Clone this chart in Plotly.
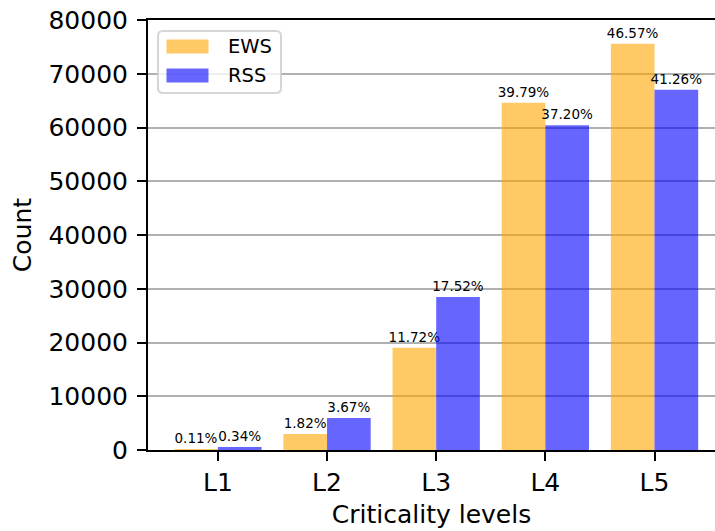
import plotly.graph_objects as go

# ---- data ----
levels = ["L1", "L2", "L3", "L4", "L5"]
ews_counts = [179, 2955, 19030, 64610, 75590]
rss_counts = [552, 5960, 28460, 60430, 67030]
ews_pct = ["0.11%", "1.82%", "11.72%", "39.79%", "46.57%"]
rss_pct = ["0.34%", "3.67%", "17.52%", "37.20%", "41.26%"]
series_names = ["EWS", "RSS"]
y_ticks = [0, 10000, 20000, 30000, 40000, 50000, 60000, 70000, 80000]

W, H = 715, 531
ML, MR, MT, MB = 148, 0, 20, 81
PW, PH = W - ML - MR, H - MT - MB

ORANGE = "rgba(255,165,0,0.6)"
BLUE = "rgba(0,0,255,0.6)"
FONT = "DejaVu Sans"

fig = go.Figure()
fig.add_trace(go.Bar(x=levels, y=ews_counts, name=series_names[0], marker=dict(color=ORANGE, line=dict(width=0)),
                     text=ews_pct, textposition="outside", cliponaxis=False, constraintext="none",
                     outsidetextfont=dict(size=13.5, color="black", family=FONT)))
fig.add_trace(go.Bar(x=levels, y=rss_counts, name=series_names[1], marker=dict(color=BLUE, line=dict(width=0)),
                     text=rss_pct, textposition="outside", cliponaxis=False, constraintext="none",
                     outsidetextfont=dict(size=13.5, color="black", family=FONT)))

def px2paper(x, y):
    return (x - ML) / PW, (H - MB - y) / PH

def rrect(x0, y0, x1, y1, r):
    def P(x, y):
        a, b = px2paper(x, y)
        return f"{a:.5f},{b:.5f}"
    return (f"M {P(x0+r,y0)} L {P(x1-r,y0)} Q {P(x1,y0)} {P(x1,y0+r)} "
            f"L {P(x1,y1-r)} Q {P(x1,y1)} {P(x1-r,y1)} L {P(x0+r,y1)} "
            f"Q {P(x0,y1)} {P(x0,y1-r)} L {P(x0,y0+r)} Q {P(x0,y0)} {P(x0+r,y0)} Z")

shapes = []
shapes.append(dict(type="path", xref="paper", yref="paper", path=rrect(158, 31, 281, 93, 5),
                   fillcolor="rgba(255,255,255,0.8)", line=dict(color="rgba(204,204,204,0.8)", width=2), layer="above"))
sw = [(39.5, 53.5, ORANGE), (68.5, 82.5, BLUE)]
for y0, y1, c in sw:
    a0, b0 = px2paper(166.5, y1)
    a1, b1 = px2paper(208.5, y0)
    shapes.append(dict(type="rect", xref="paper", yref="paper", x0=a0, x1=a1, y0=b0, y1=b1,
                       fillcolor=c, line=dict(width=0), layer="above"))

annotations = []
for name, yc in zip(series_names, [46.5, 75.5]):
    a, b = px2paper(226, yc)
    annotations.append(dict(xref="paper", yref="paper", x=a, y=b, text=name, showarrow=False,
                            xanchor="left", yanchor="middle", font=dict(size=19.5, color="black", family=FONT)))

fig.update_layout(
    width=W, height=H, margin=dict(l=ML, r=MR, t=MT, b=MB, autoexpand=False),
    paper_bgcolor="white", plot_bgcolor="white",
    font=dict(family=FONT, size=25, color="black"),
    barmode="group", bargap=0.2, bargroupgap=0,
    showlegend=False, shapes=shapes, annotations=annotations,
    xaxis=dict(range=[-0.64, 4.554], showgrid=False, showline=True, linecolor="black", linewidth=2,
               mirror=True, ticks="outside", ticklen=9, tickwidth=2, tickcolor="black",
               tickfont=dict(size=25), title=dict(text="Criticality levels", font=dict(size=25), standoff=9),
               automargin=False),
    yaxis=dict(range=[0, 80000], tickvals=y_ticks, tickformat="d", showgrid=True, gridcolor="#b0b0b0", gridwidth=2,
               zeroline=False, showline=True, linecolor="black", linewidth=2, ticks="outside", ticklen=9,
               tickwidth=2, tickcolor="black", tickfont=dict(size=25), ticklabelstandoff=4,
               ticklabeloverflow="allow",
               title=dict(text="Count", font=dict(size=25), standoff=10), automargin=False),
)
fig.write_html("out.html", config={"displayModeBar": False},
               post_script="document.body.style.margin='0';document.body.style.overflow='hidden';")
